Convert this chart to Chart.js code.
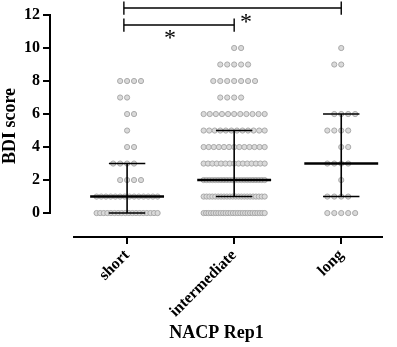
<!DOCTYPE html>
<html>
<head>
<meta charset="utf-8">
<script src="https://cdn.jsdelivr.net/npm/chart.js@4/dist/chart.umd.min.js"></script>
<style>
body { margin: 0; background: #fff; }
</style>
</head>
<body>
<canvas id="myChart" width="397" height="347"></canvas>
<script>
var groups = ['short', 'intermediate', 'long'];
var scores = [0, 1, 2, 3, 4, 5, 6, 7, 8, 9, 10];
// number of subjects at each score (counted off the dots)
var shortCounts = [18, 14, 4, 4, 2, 1, 2, 2, 4, 0, 0];
var intermediateCounts = [26, 22, 22, 15, 13, 12, 11, 4, 7, 5, 2];
var longCounts = [5, 4, 1, 4, 2, 4, 4, 0, 0, 2, 1];
var medians = [1, 2, 3];
var q1 = [0, 1, 1];
var q3 = [3, 5, 6];
var yTicks = [0, 2, 4, 6, 8, 10, 12];
// significance brackets: [from group, to group]
var brackets = [[0, 2], [0, 1]];

var font = 'Liberation Serif, Times New Roman, serif';

// lay the dots of one group out side by side per score row
function swarm(counts, g) {
  var pts = [];
  counts.forEach(function(n, row) {
    if (!n) return;
    var step = n > 1 ? Math.min(0.065, 0.57 / (n - 1)) : 0;
    var start;
    if (n % 2 || n > 9) start = -(n - 1) / 2 * step;
    else start = row % 2 ? -(n / 2) * step : -(n / 2 - 1) * step;
    for (var i = 0; i < n; i++) pts.push({ x: g + start + i * step, y: scores[row] });
  });
  return pts;
}

function seg(x1, y1, x2, y2, w) {
  return {
    type: 'line',
    data: [{ x: x1, y: y1 }, { x: x2, y: y2 }],
    borderColor: '#000',
    borderWidth: w,
    pointRadius: 0,
    fill: false,
    clip: false,
    order: 1
  };
}

var datasets = [];
[shortCounts, intermediateCounts, longCounts].forEach(function(c, g) {
  datasets.push({
    data: swarm(c, g),
    pointRadius: 2.6,
    backgroundColor: '#dadada',
    borderColor: '#a9a9a9',
    borderWidth: 1,
    order: 2
  });
});

groups.forEach(function(name, g) {
  datasets.push(seg(g - 0.345, medians[g], g + 0.345, medians[g], 2.6));
  datasets.push(seg(g - 0.17, q1[g], g + 0.17, q1[g], 1.6));
  datasets.push(seg(g - 0.17, q3[g], g + 0.17, q3[g], 1.6));
  datasets.push(seg(g, q1[g], g, q3[g], 1.6));
});

// bracket heights above the plot
var bracketY = [12.42, 11.39];
brackets.forEach(function(b, k) {
  var y = bracketY[k];
  var x1 = b[0] - 0.03, x2 = b[1];
  datasets.push(seg(x1, y, x2, y, 1.4));
  datasets.push(seg(x1, y - 0.4, x1, y + 0.4, 1.4));
  datasets.push(seg(x2, y - 0.4, x2, y + 0.4, 1.4));
});

var axesPlugin = {
  id: 'axesPlugin',
  afterDraw: function(chart) {
    var ctx = chart.ctx, xs = chart.scales.x, ys = chart.scales.y;
    var area = chart.chartArea;
    ctx.save();
    ctx.strokeStyle = '#000';
    ctx.lineWidth = 2;
    ctx.beginPath();
    ctx.moveTo(area.left, ys.getPixelForValue(0) + 1);
    ctx.lineTo(area.left, ys.getPixelForValue(12) - 1);
    ctx.stroke();
    ctx.beginPath();
    ctx.moveTo(xs.getPixelForValue(-0.505), area.bottom);
    ctx.lineTo(area.right, area.bottom);
    ctx.stroke();
    // asterisks
    ctx.fillStyle = '#000';
    ctx.font = '24px ' + font;
    ctx.textAlign = 'center';
    ctx.textBaseline = 'middle';
    ctx.fillText('*', xs.getPixelForValue(0.4), ys.getPixelForValue(10.8) + 4);
    ctx.fillText('*', xs.getPixelForValue(1.11), ys.getPixelForValue(11.8) + 4);
    ctx.restore();
  }
};

new Chart(document.getElementById('myChart').getContext('2d'), {
  type: 'scatter',
  data: { datasets: datasets },
  options: {
    responsive: false,
    animation: false,
    layout: { padding: { top: 15, right: 14, left: 0, bottom: 0 } },
    plugins: { legend: { display: false }, tooltip: { enabled: false } },
    scales: {
      x: {
        type: 'linear',
        min: -0.72,
        max: 2.39,
        afterBuildTicks: function(s) { s.ticks = groups.map(function(n, i) { return { value: i }; }); },
        afterFit: function(s) { s.height = 110; },
        ticks: {
          callback: function(v) { return groups[v]; },
          minRotation: 45,
          maxRotation: 45,
          color: '#000',
          padding: 2,
          font: { family: font, size: 16, weight: 'bold' }
        },
        grid: { drawOnChartArea: false, drawTicks: true, tickLength: 7, color: '#000', lineWidth: 2 },
        border: { display: false },
        title: {
          display: true,
          text: 'NACP Rep1',
          color: '#000',
          padding: { top: 2, bottom: 3 },
          font: { family: font, size: 18, weight: 'bold' }
        }
      },
      y: {
        min: -1.45,
        max: 12,
        afterBuildTicks: function(s) { s.ticks = yTicks.map(function(v) { return { value: v }; }); },
        afterFit: function(s) { s.width = 50; },
        ticks: {
          color: '#000',
          padding: 3,
          font: { family: font, size: 16, weight: 'bold' }
        },
        grid: { drawOnChartArea: false, drawTicks: true, tickLength: 7, color: '#000', lineWidth: 2 },
        border: { display: false },
        title: {
          display: true,
          text: 'BDI score',
          color: '#000',
          padding: { top: 0, bottom: 2 },
          font: { family: font, size: 18, weight: 'bold' }
        }
      }
    }
  },
  plugins: [axesPlugin]
});
</script>
</body>
</html>
